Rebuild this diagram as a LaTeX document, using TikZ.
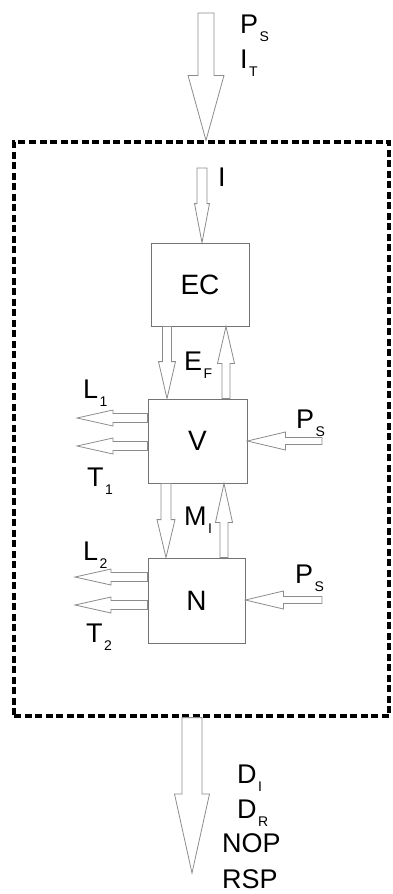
\documentclass[tikz,border=0pt]{standalone}
\usepackage{fontspec}
\setmainfont{Liberation Sans}
\usetikzlibrary{calc}

% hollow block arrow: #1 tail, #2 tip, #3 shaft half width, #4 head half width, #5 head length
\newcommand\blockarrow[5]{%
  \coordinate (bahead) at ($(#2)!#5!(#1)$);
  \draw[flow] ($(#1)!#3!90:(#2)$) -- ($(bahead)!#3!90:(#2)$) -- ($(bahead)!#4!90:(#2)$)
    -- (#2) -- ($(bahead)!#4!-90:(#2)$) -- ($(bahead)!#3!-90:(#2)$) -- ($(#1)!#3!-90:(#2)$) -- cycle;
}
% symbol with a lowered index
\newcommand\symb[2]{#1\kern1.5pt\raisebox{-8pt}{\fontsize{14}{14}\selectfont #2}}

\begin{document}
\begin{tikzpicture}[x=1pt,y=-1pt,
  flow/.style={draw=black!45, line width=0.8pt, line join=miter, fill=white},
  unit/.style={draw=black!55, line width=0.8pt, fill=white, inner sep=0pt,
               font=\fontsize{28}{30}\selectfont},
  sysbox/.style={draw=black, line width=3.2pt, dash pattern=on 7pt off 3.5pt,
                 inner sep=0pt, minimum width=375pt, minimum height=574pt},
  lbl/.style={anchor=base west, inner sep=0pt, font=\fontsize{27}{30}\selectfont}]
\useasboundingbox (0,0) rectangle (392,894);

% system boundary
\node[sysbox] (sys) at (201.5,429) {};

% units
\node[unit, minimum width=98pt, minimum height=83pt] (EC) at (200,284.5) {EC};
\node[unit, minimum width=99pt, minimum height=84pt] (V) at (197.5,441) {V};
\node[unit, minimum width=97pt, minimum height=85pt] (N) at (196.5,600.5) {N};

% free ends and arrow lines
\coordinate (topin) at (206,13);
\coordinate (iin) at (202,168);
\coordinate (efd) at (167,0);
\coordinate (efu) at (226,0);
\coordinate (mid) at (166,0);
\coordinate (miu) at (224,0);
\coordinate (lout1) at (77,418);
\coordinate (tout1) at (77,446);
\coordinate (psv) at (322,441);
\coordinate (lout2) at (75,577);
\coordinate (tout2) at (75,605);
\coordinate (psn) at (322,600);
\coordinate (outx) at (192,0);
\coordinate (outend) at (192,873);

% inputs and outputs of the system
\blockarrow{topin}{topin |- sys.north}{8pt}{18pt}{65pt}
\blockarrow{outx |- sys.south}{outend}{10pt}{17.5pt}{79pt}
\blockarrow{iin}{iin |- EC.north}{5pt}{7.5pt}{39pt}

% exchanges between units
\blockarrow{efd |- EC.south}{efd |- V.north}{4.5pt}{8.5pt}{37pt}
\blockarrow{efu |- V.north}{efu |- EC.south}{4pt}{8.5pt}{37pt}
\blockarrow{mid |- V.south}{mid |- N.north}{5pt}{9pt}{38pt}
\blockarrow{miu |- N.north}{miu |- V.south}{4pt}{8.5pt}{39pt}

% side flows
\blockarrow{V.west |- lout1}{lout1}{4.5pt}{8pt}{36pt}
\blockarrow{V.west |- tout1}{tout1}{4.5pt}{8pt}{36pt}
\blockarrow{psv}{V.east |- psv}{3.5pt}{9pt}{38pt}
\blockarrow{N.west |- lout2}{lout2}{4.5pt}{8pt}{36pt}
\blockarrow{N.west |- tout2}{tout2}{4.5pt}{8pt}{36pt}
\blockarrow{psn}{N.east |- psn}{3.5pt}{9pt}{38pt}

% labels
\node[lbl] (psTop) at (240,33) {\symb{P}{S}};
\node[lbl] (itTop) at (240,68) {\symb{I}{T}};
\node[lbl] (iIn) at (218,186) {I};
\node[lbl] (ef) at (184,370) {\symb{E}{F}};
\node[lbl] (l1) at (83,398) {\symb{L}{1}};
\node[lbl] (t1) at (87,486) {\symb{T}{1}};
\node[lbl] (ps1) at (296,428) {\symb{P}{S}};
\node[lbl] (mi) at (184,525) {\symb{M}{I}};
\node[lbl] (l2) at (83,560) {\symb{L}{2}};
\node[lbl] (t2) at (86,642) {\symb{T}{2}};
\node[lbl] (ps2) at (295,583) {\symb{P}{S}};
\node[lbl] (di) at (237,783) {\symb{D}{I}};
\node[lbl] (dr) at (237,818) {\symb{D}{R}};
\node[lbl] (nop) at (222,852) {NOP};
\node[lbl] (rsp) at (222,888) {RSP};
\end{tikzpicture}
\end{document}
